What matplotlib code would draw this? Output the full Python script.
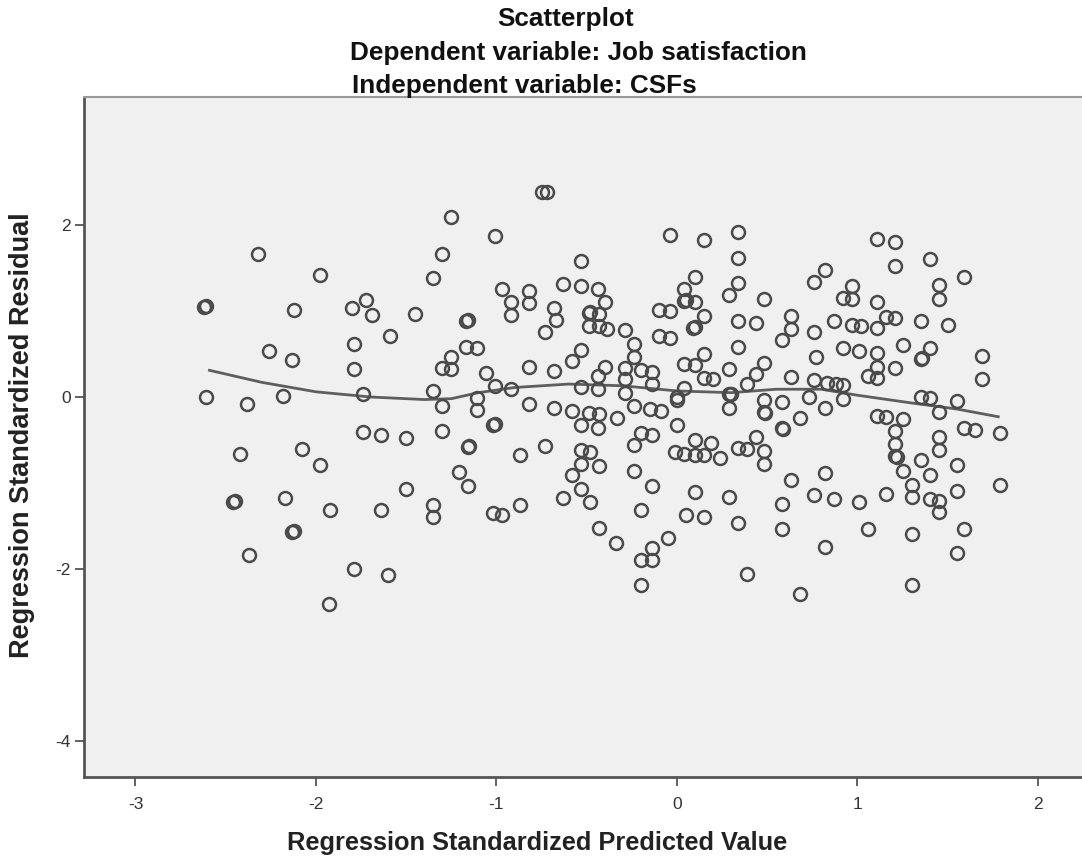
import matplotlib
matplotlib.use("Agg")
import matplotlib.pyplot as plt
import numpy as np

plt.rcParams['font.family'] = ['Liberation Sans', 'DejaVu Sans']

# Regression standardized predicted value (x) and residual (y)
pred_left = [-2.32, -1.98, -2.62, -2.61, -2.12, -1.80, -1.72, -1.69, -1.59, -2.26,
             -2.13, -1.79, -1.79, -2.61, -2.38, -2.18, -1.74, -1.74, -1.64, -2.42,
             -2.08, -1.98, -2.46, -2.45, -2.17, -1.92, -1.64, -2.13, -2.12, -2.37,
             -1.79, -1.60, -1.93]
resid_left = [1.66, 1.42, 1.05, 1.06, 1.01, 1.04, 1.13, 0.95, 0.71, 0.53,
              0.43, 0.62, 0.33, 0.00, -0.08, 0.01, 0.04, -0.41, -0.44, -0.66,
              -0.61, -0.79, -1.22, -1.21, -1.17, -1.32, -1.31, -1.57, -1.56, -1.84,
              -2.00, -2.07, -2.41]

pred_midlow = [-1.50, -1.30, -1.30, -1.11, -1.11, -1.35, -1.02, -1.01, -0.82, -0.68,
               -0.58, -0.49, -0.43, -0.53, -0.44, -1.16, -1.15, -0.87, -0.73, -0.53,
               -0.48, -0.53, -0.43, -0.58, -1.21, -1.16, -1.50, -0.53, -0.63, -0.48,
               -1.35, -1.35, -1.02, -0.97, -0.87, -0.43, -0.34]
resid_midlow = [-0.48, -0.39, -0.10, -0.15, -0.01, 0.07, -0.33, -0.32, -0.08, -0.13,
                -0.16, -0.19, -0.20, -0.33, -0.36, -0.58, -0.57, -0.67, -0.57, -0.62,
                -0.64, -0.78, -0.80, -0.91, -0.87, -1.03, -1.07, -1.07, -1.18, -1.22,
                -1.26, -1.40, -1.35, -1.37, -1.26, -1.52, -1.70]

pred_midup = [-0.75, -0.72, -1.25, -1.01, -1.30, -1.35, -1.45, -1.17, -1.16, -1.17,
              -1.11, -1.25, -1.30, -1.25, -1.06, -1.01, -0.92, -0.97, -0.92, -0.92,
              -0.82, -0.82, -0.68, -0.67, -0.73, -0.63, -0.53, -0.53, -0.44, -0.40,
              -0.49, -0.48, -0.43, -0.49, -0.43, -0.39, -0.53, -0.58, -0.68, -0.82,
              -0.40, -0.44, -0.53, -0.44]
resid_midup = [2.38, 2.38, 2.09, 1.87, 1.66, 1.38, 0.97, 0.88, 0.89, 0.58,
               0.57, 0.47, 0.34, 0.33, 0.28, 0.13, 0.09, 1.26, 1.11, 0.95,
               1.23, 1.09, 1.03, 0.89, 0.76, 1.31, 1.58, 1.29, 1.26, 1.10,
               0.98, 0.99, 0.97, 0.83, 0.82, 0.79, 0.55, 0.42, 0.30, 0.35,
               0.35, 0.24, 0.12, 0.09]

pred_cenup = [-0.04, 0.15, 0.34, 0.34, 0.10, 0.04, 0.04, 0.05, 0.10, 0.34,
              0.29, 0.48, 0.76, -0.29, -0.10, -0.04, -0.10, -0.04, 0.15, 0.09,
              0.10, 0.34, 0.44, 0.63, 0.63, 0.58, 0.76, 0.34, -0.24, -0.24,
              -0.29, -0.29, -0.29, -0.20, -0.14, -0.14, 0.04, 0.10, 0.15, 0.15,
              0.20, 0.04, 0.29, 0.48, 0.44, 0.39, 0.63, 0.76, 0.29, 0.30,
              0.00, 0.77]
resid_cenup = [1.88, 1.83, 1.92, 1.62, 1.40, 1.26, 1.12, 1.13, 1.10, 1.33,
               1.19, 1.14, 1.34, 0.78, 1.01, 1.00, 0.71, 0.69, 0.94, 0.80,
               0.81, 0.88, 0.86, 0.94, 0.79, 0.66, 0.76, 0.58, 0.62, 0.46,
               0.34, 0.21, 0.05, 0.31, 0.29, 0.15, 0.38, 0.37, 0.50, 0.22,
               0.21, 0.11, 0.33, 0.40, 0.27, 0.15, 0.23, 0.20, 0.04, 0.03,
               0.00, 0.46]

pred_cenlow = [-0.24, -0.33, -0.15, -0.09, 0.00, 0.00, -0.20, -0.14, -0.24, 0.10,
               0.19, -0.01, 0.04, 0.10, 0.15, 0.24, 0.29, 0.48, 0.48, 0.49,
               0.58, 0.58, 0.59, 0.68, 0.73, 0.44, 0.34, 0.39, 0.48, 0.48,
               -0.24, -0.14, 0.10, 0.29, 0.63, 0.76, 0.58, 0.58, -0.20, 0.05,
               0.15, 0.34, -0.05, -0.14, -0.20, -0.14, -0.20, 0.39, 0.68]
resid_cenlow = [-0.11, -0.24, -0.14, -0.16, -0.04, -0.33, -0.42, -0.44, -0.56, -0.50,
                -0.54, -0.64, -0.66, -0.67, -0.68, -0.71, -0.13, -0.03, -0.18, -0.19,
                -0.06, -0.36, -0.37, -0.24, 0.00, -0.46, -0.59, -0.60, -0.63, -0.78,
                -0.86, -1.03, -1.11, -1.16, -0.97, -1.14, -1.24, -1.53, -1.31, -1.37,
                -1.40, -1.46, -1.64, -1.76, -1.89, -1.90, -2.19, -2.06, -2.29]

pred_right = [1.11, 1.21, 1.40, 1.21, 1.59, 0.82, 0.97, 0.92, 0.97, 1.11,
              1.45, 1.45, 0.87, 0.97, 1.02, 1.11, 1.16, 1.21, 1.35, 1.50,
              0.92, 1.01, 1.11, 1.25, 1.40, 1.35, 1.36, 1.11, 1.21, 1.06,
              1.11, 1.69, 1.69, 0.83, 0.88, 0.92, 1.35, 1.40, 1.55, 0.82,
              0.92, 1.11, 1.16, 1.25, 1.21, 1.21, 1.21, 1.22, 1.45, 1.59,
              1.65, 1.79, 1.45, 1.45, 1.35, 1.55, 1.25, 1.40, 0.82, 1.30,
              1.30, 0.87, 1.01, 1.16, 1.40, 1.45, 1.45, 1.55, 1.79, 1.06,
              1.30, 1.59, 1.55, 0.82, 1.30]
resid_right = [1.84, 1.80, 1.60, 1.52, 1.40, 1.48, 1.29, 1.15, 1.14, 1.10,
               1.30, 1.14, 0.88, 0.84, 0.83, 0.80, 0.93, 0.92, 0.88, 0.84,
               0.57, 0.54, 0.51, 0.61, 0.57, 0.44, 0.45, 0.35, 0.34, 0.24,
               0.22, 0.48, 0.21, 0.16, 0.15, 0.14, 0.00, -0.01, -0.05, -0.13,
               -0.02, -0.22, -0.23, -0.26, -0.40, -0.55, -0.69, -0.70, -0.17, -0.36,
               -0.38, -0.42, -0.47, -0.62, -0.73, -0.79, -0.86, -0.91, -0.88, -1.02,
               -1.16, -1.19, -1.22, -1.13, -1.19, -1.21, -1.34, -1.09, -1.02, -1.53,
               -1.59, -1.53, -1.81, -1.75, -2.19]

# Fitted (loess) line
fit_x = [-2.59, -2.3, -2.0, -1.7, -1.4, -1.25, -1.1, -0.9, -0.6, -0.3,
         0.0, 0.3, 0.55, 0.8, 1.0, 1.3, 1.55, 1.78]
fit_y = [0.31, 0.17, 0.06, 0.0, -0.03, -0.02, 0.05, 0.11, 0.15, 0.13,
         0.07, 0.05, 0.09, 0.09, 0.02, -0.07, -0.14, -0.23]

title_lines = ["Scatterplot", "Dependent variable: Job satisfaction",
               "Independent variable: CSFs"]
x_label = "Regression Standardized Predicted Value"
y_label = "Regression Standardized Residual"
x_ticks = [-3, -2, -1, 0, 1, 2]
y_ticks = [-4, -2, 0, 2]

x_all = np.array(pred_left + pred_midlow + pred_midup + pred_cenup + pred_cenlow + pred_right)
y_all = np.array(resid_left + resid_midlow + resid_midup + resid_cenup + resid_cenlow + resid_right)

W, H = 1082, 857
fig = plt.figure(figsize=(W / 100, H / 100), dpi=100)
fig.patch.set_facecolor('white')
ax = fig.add_axes([84 / W, 1 - 777 / H, (1082 - 84) / W, (777 - 97) / H])
ax.set_facecolor('#f0f0f0')

ax.plot(x_all, y_all, linestyle='none', marker='o', markersize=9.3,
        markerfacecolor='none', markeredgecolor='#4a4a4a', markeredgewidth=1.8,
        zorder=3)
ax.plot(fit_x, fit_y, color='#5e5e5e', linewidth=2.0, zorder=2)

ax.set_xlim(-3.285, 2.244)
ax.set_ylim(-4.419, 3.488)
ax.set_xticks(x_ticks)
ax.set_yticks(y_ticks)
ax.set_xticklabels([str(t) for t in x_ticks])
ax.set_yticklabels([str(t) for t in y_ticks])
ax.tick_params(axis='both', direction='out', length=6.5, width=1.3,
               color='#555555', labelsize=12.5, labelcolor='#333333', pad=3)
ax.tick_params(axis='x', pad=8)

for s in ['left', 'bottom']:
    ax.spines[s].set_color('#555555')
    ax.spines[s].set_linewidth(2.0)
ax.spines['top'].set_color('#9a9a9a')
ax.spines['top'].set_linewidth(1.5)
ax.spines['right'].set_visible(False)

fig.text(566 / W, 1 - 19 / H, title_lines[0], ha='center', va='center',
         fontsize=18.8, fontweight='bold', color='#111111')
fig.text(350 / W, 1 - 53 / H, title_lines[1], ha='left', va='center',
         fontsize=18.8, fontweight='bold', color='#111111')
fig.text(352 / W, 1 - 86 / H, title_lines[2], ha='left', va='center',
         fontsize=18.8, fontweight='bold', color='#111111')

fig.text(537 / W, 1 - 843 / H, x_label, ha='center', va='center',
         fontsize=18.3, fontweight='bold', color='#222222')
fig.text(22 / W, 1 - 435 / H, y_label, ha='center', va='center', rotation=90,
         fontsize=19.5, fontweight='bold', color='#222222')

fig.savefig('out.png', dpi=100)
